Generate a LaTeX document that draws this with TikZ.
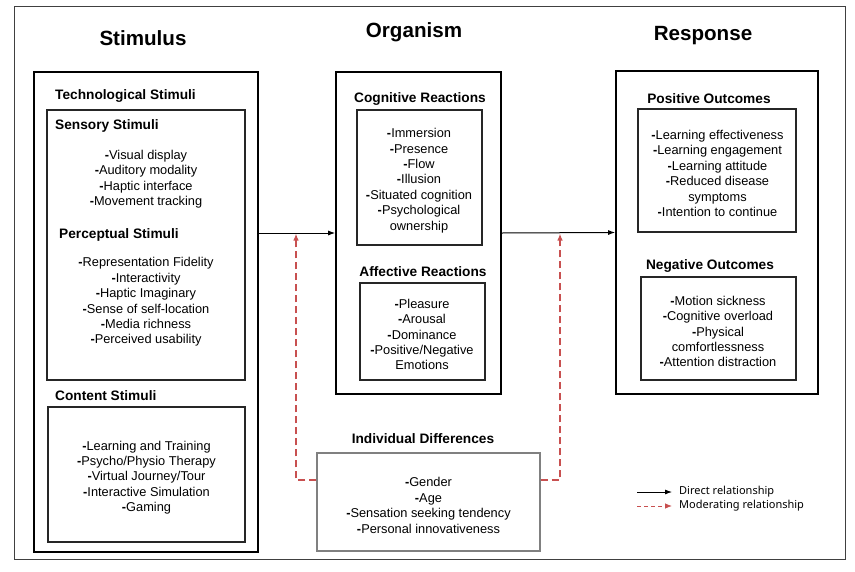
\documentclass[tikz,border=0pt]{standalone}
\usepackage{fontspec}
\setmainfont{Liberation Sans}
\newfontfamily\legendfont{Noto Sans}
\usetikzlibrary{arrows.meta}
\definecolor{modred}{RGB}{200,80,80}
\definecolor{idgray}{RGB}{128,128,128}
\tikzstyle{frame}=[draw=black!75,line width=0.8pt,inner sep=0pt]
\tikzstyle{mainbox}=[draw=black,line width=1.6pt,inner sep=0pt]
\tikzstyle{subbox}=[draw=black!85,line width=1.1pt,inner sep=0pt]
\tikzstyle{idbox}=[draw=idgray,line width=1.4pt,inner sep=0pt]
\tikzstyle{title}=[font=\fontsize{20.6}{24}\selectfont\bfseries,inner sep=0pt]
\tikzstyle{heading}=[font=\fontsize{13.7}{16}\selectfont\bfseries,inner sep=0pt,yshift=-2pt]
\tikzstyle{items}=[align=center,font=\fontsize{12.8}{15.4}\selectfont,inner sep=0pt,yshift=-2.5pt]
\tikzstyle{legend}=[font=\legendfont\fontsize{11}{13}\selectfont,inner sep=0pt,anchor=west]
\tikzstyle{direct}=[-{Latex[length=7pt,width=5pt]},line width=1pt]
\tikzstyle{moderating}=[-{Latex[length=7pt,width=5.5pt]},draw=modred,line width=1.3pt,dash pattern=on 7pt off 4pt]
\newcommand{\itm}{\textbf{-}}

\begin{document}
\begin{tikzpicture}[x=1pt,y=-1pt]
    \useasboundingbox (0,0) rectangle (855,571);
    \node[frame,minimum width=831pt,minimum height=553pt] (fr) at (429.5,282.5) {};

    % titles
    \node[title] (tstim) at (143,38) {Stimulus};
    \node[title] (torg) at (414,32) {Organism};
    \node[title] (tresp) at (703,36) {Response};

    % stimulus
    \node[mainbox,minimum width=224pt,minimum height=480pt] (stim) at (146,312) {};
    \node[subbox,minimum width=198pt,minimum height=270pt] (sens) at (146,245) {};
    \node[subbox,minimum width=197pt,minimum height=135pt] (cont) at (146.5,474.5) {};
    \node[heading,anchor=west] (htech) at (55,94) {Technological Stimuli};
    \node[heading,anchor=west] (hsens) at (55,124) {Sensory Stimuli};
    \node[heading,anchor=west] (hperc) at (59,233) {Perceptual Stimuli};
    \node[heading,anchor=west] (hcont) at (55,394) {Content Stimuli};
    \node[items] (isens) at (146,176.5) {\itm Visual display\\\itm Auditory modality\\\itm Haptic interface\\\itm Movement tracking};
    \node[items] (iperc) at (146,299.5) {\itm Representation Fidelity\\\itm Interactivity\\\itm Haptic Imaginary\\\itm Sense of self-location\\\itm Media richness\\\itm Perceived usability};
    \node[items] (icont) at (146.5,475) {\itm Learning and Training\\\itm Psycho/Physio Therapy\\\itm Virtual Journey/Tour\\\itm Interactive Simulation\\\itm Gaming};

    % organism
    \node[mainbox,minimum width=165pt,minimum height=322pt] (org) at (418.5,233) {};
    \node[subbox,minimum width=125pt,minimum height=135pt] (cogn) at (419.5,177.5) {};
    \node[subbox,minimum width=125pt,minimum height=97pt] (affe) at (422.5,331.5) {};
    \node[heading] (hcogn) at (420,97) {Cognitive Reactions};
    \node[heading] (haffe) at (423,270) {Affective Reactions};
    \node[items] (icogn) at (419,178) {\itm Immersion\\\itm Presence\\\itm Flow\\\itm Illusion\\\itm Situated cognition\\\itm Psychological\\ownership};
    \node[items] (iaffe) at (422,332) {\itm Pleasure\\\itm Arousal\\\itm Dominance\\\itm Positive/Negative\\Emotions};

    % individual differences
    \node[idbox,minimum width=223pt,minimum height=98pt] (indi) at (428.5,502) {};
    \node[heading] (hindi) at (423,437) {Individual Differences};
    \node[items] (iindi) at (428.5,503) {\itm Gender\\\itm Age\\\itm Sensation seeking tendency\\\itm Personal innovativeness};

    % response
    \node[mainbox,minimum width=202pt,minimum height=323pt] (resp) at (717,232.5) {};
    \node[subbox,minimum width=158pt,minimum height=123pt] (posi) at (717,170.5) {};
    \node[subbox,minimum width=155pt,minimum height=103pt] (nega) at (718.5,328.5) {};
    \node[heading] (hposi) at (709,97) {Positive Outcomes};
    \node[heading] (hnega) at (710,264) {Negative Outcomes};
    \node[items] (iposi) at (717.5,171) {\itm Learning effectiveness\\\itm Learning engagement\\\itm Learning attitude\\\itm Reduced disease\\symptoms\\\itm Intention to continue};
    \node[items] (inega) at (718,329) {\itm Motion sickness\\\itm Cognitive overload\\\itm Physical\\comfortlessness\\\itm Attention distraction};

    % relationships
    \draw[direct] (stim.east |- org.west) -- (org.west);
    \draw[direct] (org.east) -- (resp.west);
    \coordinate (modl) at (296,233.5);
    \coordinate (modr) at (560,233.5);
    \draw[moderating] ([yshift=22pt]indi.west) -| (modl);
    \draw[moderating] ([yshift=22pt]indi.east) -| (modr);

    % legend
    \coordinate (dirs) at (637,492);
    \coordinate (dire) at (672,492);
    \coordinate (mods) at (637,506);
    \coordinate (mode) at (672,506);
    \draw[direct,line width=0.8pt] (dirs) -- (dire);
    \draw[moderating,line width=0.8pt,dash pattern=on 4pt off 3pt] (mods) -- (mode);
    \node[legend] (ldir) at (679,492) {Direct relationship};
    \node[legend] (lmod) at (679,506) {Moderating relationship};
\end{tikzpicture}
\end{document}
